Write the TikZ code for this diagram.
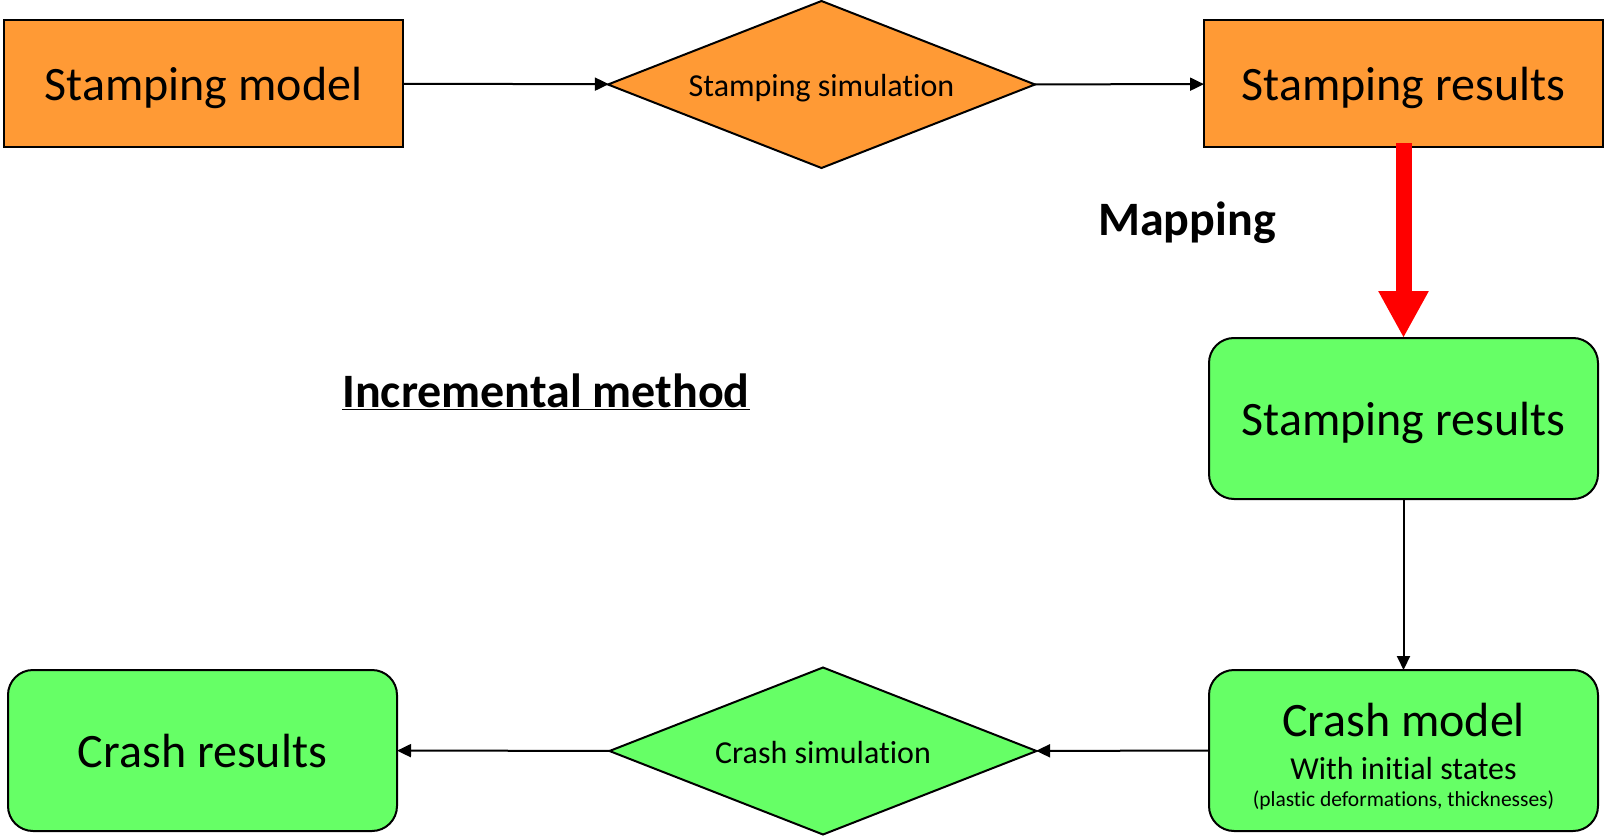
\documentclass[tikz,border=0pt]{standalone}
\usepackage{fontspec}
\setmainfont{Carlito}[Ligatures=NoCommon]
\usetikzlibrary{shapes.geometric,arrows.meta}
\definecolor{stamporange}{HTML}{FF9A35}
\definecolor{crashgreen}{HTML}{66FF66}
\tikzset{
  base/.style={draw=black, line width=2pt, inner sep=0pt, outer sep=0pt, text depth=0pt},
  obox/.style={base, rectangle, fill=stamporange, minimum width=399pt, minimum height=127pt,
    font=\fontsize{48}{50}\selectfont, text height=34pt},
  gbox/.style={base, rectangle, rounded corners=25pt, fill=crashgreen,
    minimum width=389pt, minimum height=161pt, font=\fontsize{48}{50}\selectfont,
    text height=34pt},
  dmd/.style={base, diamond, aspect=2.56, minimum width=427pt, minimum height=167pt,
    font=\fontsize{32}{34}\selectfont, text height=24pt},
  flow/.style={line width=2pt, -{Triangle[length=14pt,width=13pt]}},
  mapflow/.style={draw=red, line width=16pt, -{Triangle[length=47pt,width=47pt]}},
  caption/.style={font=\bfseries\fontsize{48}{50}\selectfont, inner sep=0pt, anchor=base},
  note/.style={inner sep=0pt, anchor=base},
}
\begin{document}
\begin{tikzpicture}[x=1pt,y=-1pt]
  \useasboundingbox (0,0) rectangle (1604,837);

  % stamping stage
  \node[obox] (sm) at (203.5,83.5) {Stamping model};
  \node[dmd, fill=stamporange] (d1) at (821.5,84.5) {Stamping simulation};
  \node[obox] (sr) at (1403.5,84) {Stamping results};

  % crash stage
  \node[gbox] (g1) at (1403.5,418.5) {Stamping results};
  \node[gbox] (cm) at (1403.5,750.5) {};
  \node[note, font=\fontsize{48}{50}\selectfont] (cmt) at (1403.5,736) {Crash model};
  \node[note, font=\fontsize{32}{34}\selectfont] (cms) at (1403.5,779) {With initial states};
  \node[note, font=\fontsize{21.5}{23}\selectfont] (cmp) at (1403.5,806) {(plastic deformations, thicknesses)};
  \node[dmd, fill=crashgreen] (d2) at (823,751) {Crash simulation};
  \node[gbox] (cr) at (202.5,750.5) {Crash results};

  % captions
  \node[caption] (map) at (1187,236) {Mapping};
  \node[caption] (inc) at (546,407) {\underline{Incremental method}};

  % connectors
  \draw[flow] (sm) -- (d1);
  \draw[flow] (d1) -- (sr);
  \draw[mapflow, shorten <=-4pt] (sr.south) -- (g1.north);
  \draw[flow] (g1) -- (cm);
  \draw[flow] (cm) -- (d2);
  \draw[flow] (d2) -- (cr);
\end{tikzpicture}
\end{document}
